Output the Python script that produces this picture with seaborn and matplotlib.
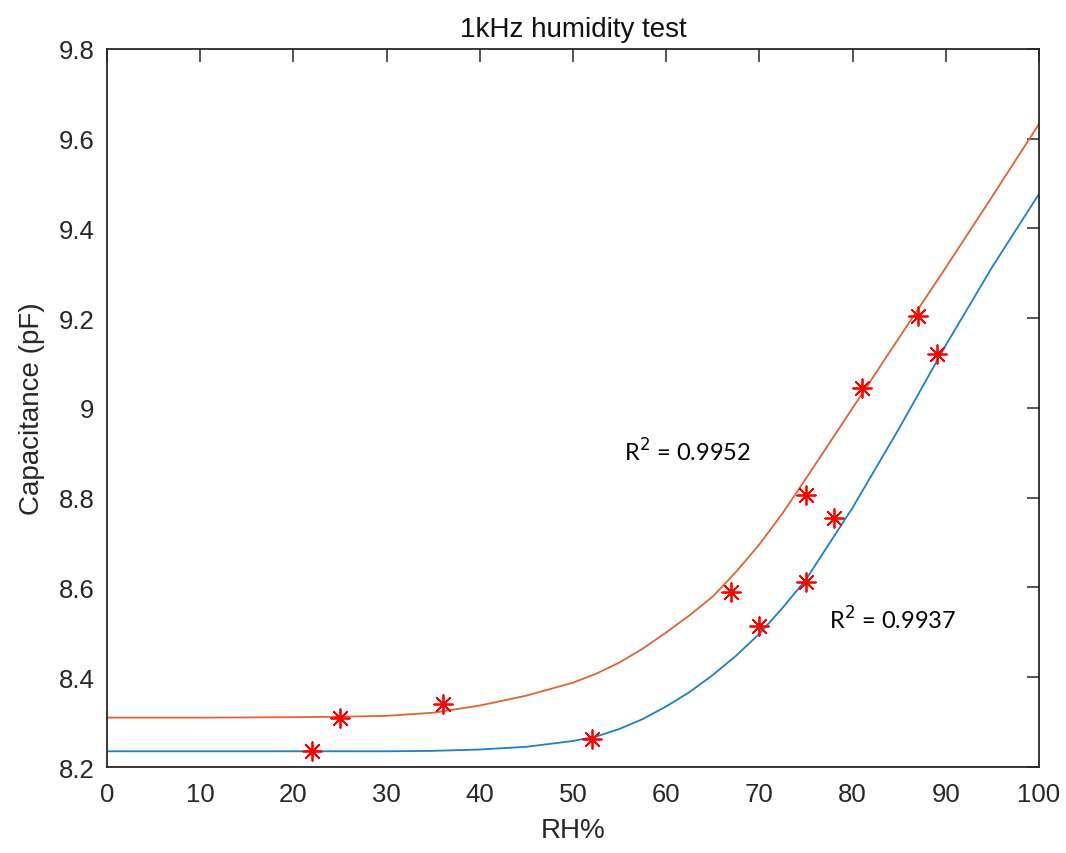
import matplotlib
matplotlib.use("Agg")
import matplotlib.pyplot as plt
import seaborn as sns
import pandas as pd

# ---- data ----
rh_a = [25, 36, 67, 75, 81, 87]
cap_a = [8.310, 8.340, 8.590, 8.805, 9.045, 9.205]
rh_b = [22, 52, 70, 75, 78, 89]
cap_b = [8.236, 8.262, 8.515, 8.612, 8.755, 9.120]

fit_rh = [0, 10, 20, 25, 30, 35, 40, 45, 50, 52.5, 55, 57.5, 60, 62.5, 65, 67.5,
          70, 72.5, 75, 80, 85, 90, 95, 100]
fit_a = [8.310, 8.310, 8.311, 8.312, 8.314, 8.321, 8.337, 8.359, 8.388, 8.408, 8.433,
         8.464, 8.500, 8.538, 8.580, 8.635, 8.696, 8.766, 8.843, 9.000, 9.157, 9.313,
         9.472, 9.633]
fit_b = [8.235, 8.235, 8.235, 8.235, 8.235, 8.236, 8.239, 8.245, 8.258, 8.268, 8.285,
         8.307, 8.335, 8.367, 8.405, 8.448, 8.497, 8.555, 8.618, 8.778, 8.955, 9.140,
         9.315, 9.477]

r2_a = "0.9952"
r2_b = "0.9937"
title = "1kHz humidity test"
xlabel = "RH%"
ylabel = "Capacitance (pF)"
xticks = list(range(0, 101, 10))
yticks = [8.2, 8.4, 8.6, 8.8, 9.0, 9.2, 9.4, 9.6, 9.8]
ytick_labels = ["8.2", "8.4", "8.6", "8.8", "9", "9.2", "9.4", "9.6", "9.8"]

sns.set_theme(style="white")
plt.rcParams['font.family'] = ['Liberation Sans', 'DejaVu Sans']

fig = plt.figure(figsize=(10.66, 8.54), dpi=100)
ax = fig.add_axes([0.1004, 0.1007, 0.8743, 0.8408])

fit_df = pd.DataFrame({"RH": fit_rh + fit_rh,
                       "C": fit_a + fit_b,
                       "series": ["a"] * len(fit_rh) + ["b"] * len(fit_rh)})
sns.lineplot(data=fit_df, x="RH", y="C", hue="series",
             palette={"a": "#DE6430", "b": "#1A80C8"}, linewidth=1.3,
             legend=False, ax=ax, sort=True)

pts_df = pd.DataFrame({"RH": rh_a + rh_b, "C": cap_a + cap_b})
sns.scatterplot(data=pts_df, x="RH", y="C", marker=(8, 2, 0), s=180,
                color="#FF0000", edgecolor="#FF0000", linewidth=1.3, ax=ax, zorder=5)

ax.set_xlim(0, 100)
ax.set_ylim(8.2, 9.8)
ax.set_xticks(xticks)
ax.set_xticklabels([str(t) for t in xticks])
ax.set_yticks(yticks)
ax.set_yticklabels(ytick_labels)

for s in ax.spines.values():
    s.set_visible(True)
    s.set_color("#262626")
    s.set_linewidth(1.3)

ax.tick_params(direction="in", length=9, width=1.1, color="#262626",
               top=True, right=True, labelsize=18.5, labelcolor="#262626", pad=9)
ax.tick_params(axis="x", pad=11)

ax.set_title(title, fontsize=20, color="#111111", pad=9)
ax.set_xlabel(xlabel, fontsize=20, color="#262626", labelpad=8)
ax.set_ylabel(ylabel, fontsize=20, color="#262626", labelpad=10)

ax.text(55.5, 8.905, r"R$^2$ = " + r2_a, fontsize=17, family="Lato",
        color="black", va="center", ha="left")
ax.text(77.5, 8.53, r"R$^2$ = " + r2_b, fontsize=17, family="Lato",
        color="black", va="center", ha="left")

fig.savefig("out.png", dpi=100, facecolor="white")
